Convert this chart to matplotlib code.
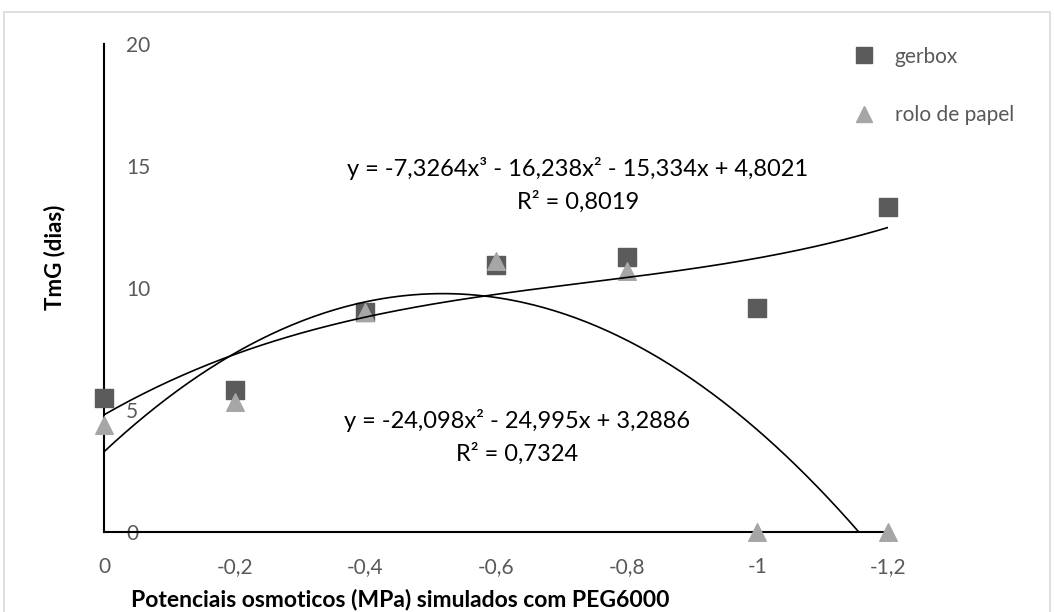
import numpy as np
import matplotlib
matplotlib.use("Agg")
import matplotlib.pyplot as plt
from matplotlib.lines import Line2D
from matplotlib.patches import Rectangle

plt.rcParams['font.family'] = ['Lato', 'DejaVu Sans']

# dados
potenciais = [0, -0.2, -0.4, -0.6, -0.8, -1.0, -1.2]
gerbox = [5.5, 5.8, 9.0, 10.95, 11.27, 9.18, 13.3]
rolo_papel = [4.4, 5.33, 9.0, 11.1, 10.7, 0, 0]
x_ticks = [0, -0.2, -0.4, -0.6, -0.8, -1.0, -1.2]
x_tick_labels = ["0", "-0,2", "-0,4", "-0,6", "-0,8", "-1", "-1,2"]
y_ticks = [0, 5, 10, 15, 20]
y_tick_labels = ["0", "5", "10", "15", "20"]

# coeficientes das linhas de tendencia (grau maior primeiro)
coef_gerbox = [-7.3264, -16.238, -15.334, 4.8021]
coef_rolo = [-24.098, -24.995, 3.2886]
eq_gerbox = "y = -7,3264x³ - 16,238x² - 15,334x + 4,8021\nR² = 0,8019"
eq_rolo = "y = -24,098x² - 24,995x + 3,2886\nR² = 0,7324"

cinza_escuro = "#5b5b5b"
cinza_claro = "#a6a6a6"
cinza_texto = "#595959"

W, H = 1054, 612
fig = plt.figure(figsize=(W / 100, H / 100), dpi=100)
ax = fig.add_axes([104 / W, 1 - 532 / H, (888 - 104) / W, (532 - 44) / H])

# borda do grafico
fig.patches.append(Rectangle((4 / W, -0.05), (W - 8) / W, 1.05 - 12 / H, transform=fig.transFigure,
                             fill=False, edgecolor="#d9d9d9", linewidth=1.2))

ax.scatter(potenciais, gerbox, marker="s", s=150, color=cinza_escuro, zorder=3, clip_on=False)
ax.scatter(potenciais, rolo_papel, marker="^", s=160, color=cinza_claro, zorder=3, clip_on=False)

xs = np.linspace(0, -1.2, 300)
ax.plot(xs, np.polyval(coef_gerbox, xs), color="black", lw=1.2, zorder=4)
ax.plot(xs, np.polyval(coef_rolo, xs), color="black", lw=1.2, zorder=4)

ax.set_xlim(0, -1.2)
ax.set_ylim(0, 20)
for s in ["top", "right"]:
    ax.spines[s].set_visible(False)
for s in ["left", "bottom"]:
    ax.spines[s].set_linewidth(1.5)
    ax.spines[s].set_color("black")
    ax.spines[s].set_zorder(2)

ax.set_xticks(x_ticks)
ax.set_xticklabels(x_tick_labels)
ax.set_yticks(y_ticks)
ax.set_yticklabels(y_tick_labels)
ax.tick_params(axis="x", length=0, pad=18, labelsize=15, labelcolor=cinza_texto)
ax.tick_params(axis="y", length=0, pad=-16, labelsize=15, labelcolor=cinza_texto)
for lb in ax.get_yticklabels():
    lb.set_ha("left")

fig.text(400 / W, 1 - 599 / H, "Potenciais osmoticos (MPa) simulados com PEG6000",
         ha="center", va="center", fontsize=16.5, fontweight="bold")
fig.text(55 / W, 1 - 257 / H, "TmG (dias)", ha="center", va="center", rotation=90,
         fontsize=16, fontweight="bold")

ax.text(578 / W, 1 - 185 / H, eq_gerbox, transform=fig.transFigure, ha="center",
        va="center", fontsize=17, linespacing=1.55)
ax.text(517 / W, 1 - 437 / H, eq_rolo, transform=fig.transFigure, ha="center",
        va="center", fontsize=17, linespacing=1.55)

handles = [Line2D([], [], marker="s", ls="", color=cinza_escuro, markersize=11),
           Line2D([], [], marker="^", ls="", color=cinza_claro, markersize=12)]
fig.legend(handles, ["gerbox", "rolo de papel"], loc="upper left",
           bbox_to_anchor=(824 / W, 1 - 28 / H), frameon=False, fontsize=15,
           labelcolor=cinza_texto, labelspacing=1.85, handletextpad=0.5)

fig.savefig("out.png", dpi=100)
